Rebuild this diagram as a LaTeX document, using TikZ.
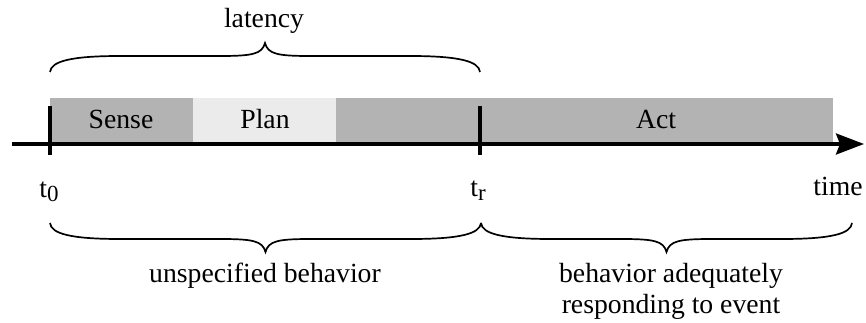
\documentclass[tikz,border=0pt]{standalone}
\usepackage{fontspec}
\setmainfont{Liberation Serif}
\usetikzlibrary{arrows.meta}

\definecolor{phasedark}{RGB}{179,179,179}
\definecolor{phaselight}{RGB}{235,235,235}

% subscript set in the text font, slightly smaller and lowered
\newcommand{\tsub}[1]{\raisebox{-4pt}{\fontsize{23}{23}\selectfont #1}}

% horizontal curly brace: #1 = left x, #2 = right x, #3 = end y, #4 = +1 (tip down) / -1 (tip up)
\newcommand{\curlybrace}[4]{%
  \draw[bracestroke]
    (#1,#3) .. controls ({#1+1},{#3+#4*11}) and ({#1+22},{#3+#4*16}) .. ({#1+70},{#3+#4*16})
    -- ({(#1+#2)/2-45},{#3+#4*16})
    .. controls ({(#1+#2)/2-12},{#3+#4*16}) and ({(#1+#2)/2-3},{#3+#4*18}) .. ({(#1+#2)/2},{#3+#4*29})
    .. controls ({(#1+#2)/2+3},{#3+#4*18}) and ({(#1+#2)/2+12},{#3+#4*16}) .. ({(#1+#2)/2+45},{#3+#4*16})
    -- ({#2-70},{#3+#4*16})
    .. controls ({#2-22},{#3+#4*16}) and ({#2-1},{#3+#4*11}) .. (#2,#3);%
}

\tikzset{
  phase/.style={inner sep=0pt, outer sep=0pt},
  lbl/.style={font=\fontsize{27.7}{31}\selectfont, inner sep=0pt, anchor=base},
  axisline/.style={line width=3.4pt, -{Stealth[length=28pt,width=21pt,inset=4pt]}},
  tickline/.style={line width=3.4pt},
  bracestroke/.style={line width=1.7pt},
}

\begin{document}
\begin{tikzpicture}[x=1pt,y=-1pt]
  \useasboundingbox (0,0) rectangle (866,323);

  % phase bars
  \fill[phasedark]  (50,98)  rectangle (193,144);
  \fill[phaselight] (193,98) rectangle (336,144);
  \fill[phasedark]  (336,98) rectangle (480,144);
  \fill[phasedark]  (480,98) rectangle (833,144);

  \node[lbl] (sense) at (121,129) {Sense};
  \node[lbl] (plan)  at (265,129) {Plan};
  \node[lbl] (act)   at (656,129) {Act};

  % time axis
  \coordinate (axisstart) at (12,144);
  \coordinate (axisend)   at (864,144);
  \draw[axisline] (axisstart) -- (axisend);

  % event markers
  \coordinate (t0top) at (50,106);
  \coordinate (t0bot) at (50,155);
  \coordinate (trtop) at (480,106);
  \coordinate (trbot) at (480,155);
  \draw[tickline] (t0top) -- (t0bot);
  \draw[tickline] (trtop) -- (trbot);

  \node[lbl] (t0)   at (49,197)  {t\tsub{0}};
  \node[lbl] (tr)   at (478,196) {t\tsub{r}};
  \node[lbl] (time) at (838,195) {time};

  % latency brace
  \curlybrace{50}{480}{72}{-1}
  \node[lbl] (latency) at (264,28) {latency};

  % behaviour braces
  \curlybrace{50}{481}{223}{1}
  \curlybrace{481}{852}{223}{1}
  \node[lbl] (unspec) at (265,282) {unspecified behavior};
  \node[lbl, align=center] (adequate) at (671,313) {behavior adequately\\responding to event};
\end{tikzpicture}
\end{document}
